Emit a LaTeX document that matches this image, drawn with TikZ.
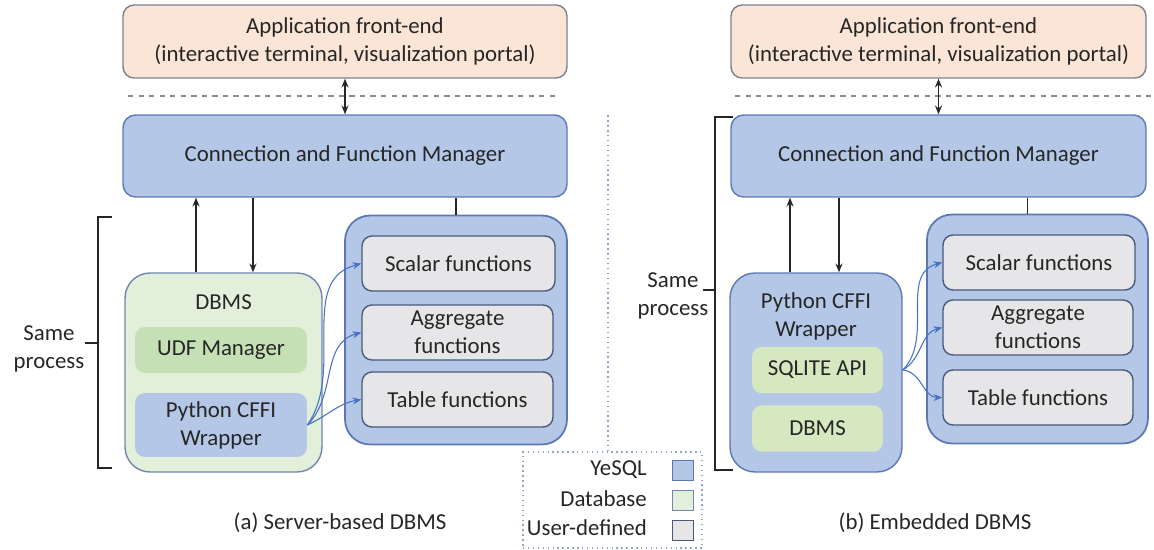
\documentclass[tikz,border=0pt]{standalone}
\usepackage{fontspec}
\setmainfont{Carlito}
\usetikzlibrary{arrows.meta,calc}
\definecolor{frontfill}{HTML}{FBE5D6}
\definecolor{frontline}{HTML}{7B8190}
\definecolor{yesqlfill}{HTML}{B4C7E7}
\definecolor{yesqlline}{HTML}{5B78B5}
\definecolor{dbfill}{HTML}{E2EFDA}
\definecolor{dbline}{HTML}{7286B0}
\definecolor{udffill}{HTML}{C5E0B4}
\definecolor{apifill}{HTML}{D5E8C0}
\definecolor{userfill}{HTML}{E6E6E8}
\definecolor{userline}{HTML}{4A5A78}
\definecolor{callblue}{HTML}{4472C4}
\definecolor{textgray}{HTML}{262626}
\definecolor{sepgray}{HTML}{8C8C8C}
\definecolor{dotblue}{HTML}{8FA3C8}

\begin{document}
\begin{tikzpicture}[
  x=0.02cm, y=-0.02cm,
  >={Stealth[length=5pt,width=4pt]},
  every node/.style={font=\fontsize{13}{16}\selectfont, text=textgray},
  frontend/.style={draw=frontline, fill=frontfill, line width=0.8pt, rounded corners=0.22cm, minimum width=#1, minimum height=1.46cm, align=center},
  manager/.style={draw=yesqlline, fill=yesqlfill, line width=0.8pt, rounded corners=0.25cm, minimum width=#1, minimum height=1.64cm},
  dbbox/.style={draw=dbline, fill=dbfill, line width=0.8pt, rounded corners=0.5cm, minimum width=3.94cm, minimum height=3.98cm},
  wrapbox/.style={draw=yesqlline, fill=yesqlfill, line width=0.8pt, rounded corners=0.5cm, minimum width=3.44cm, minimum height=3.98cm},
  udfbox/.style={fill=udffill, rounded corners=0.2cm, minimum width=3.44cm, minimum height=0.92cm},
  innerwrap/.style={fill=yesqlfill, rounded corners=0.2cm, minimum width=3.44cm, minimum height=1.28cm, align=center},
  apibox/.style={fill=apifill, rounded corners=0.2cm, minimum width=2.62cm, minimum height=0.93cm},
  funbox/.style={draw=yesqlline, fill=yesqlfill, line width=1pt, rounded corners=0.5cm, minimum width=#1, minimum height=4.58cm},
  userbox/.style={draw=userline, fill=userfill, line width=0.8pt, rounded corners=0.2cm, minimum width=#1, minimum height=1.1cm, align=center},
  flow/.style={->, draw=textgray, line width=0.8pt},
  call/.style={->, draw=callblue, line width=0.6pt},
  sepline/.style={draw=sepgray, dashed, line width=0.8pt},
  brace/.style={draw=textgray, line width=0.8pt},
  keybox/.style={draw=#1line, fill=#1fill, minimum width=0.42cm, minimum height=0.4cm, inner sep=0pt}
]
\useasboundingbox (0,0) rectangle (1154,550);

% (a) server-based DBMS
\node[frontend=8.88cm] (appA) at (345,41.5) {Application front-end\\(interactive terminal, visualization portal)};
\node[manager=8.88cm] (cfmA) at (345,156) {Connection and Function Manager};
\draw[sepline] (128,96) -- (557,96);
\draw[flow, <->] (appA) -- (cfmA);

\node[dbbox] (dbmsA) at (223.5,372.5) {};
\node (dbmsAtitle) at (223.5,302) {DBMS};
\node[udfbox] (udfA) at (221,350) {UDF Manager};
\node[innerwrap] (wrapA) at (221,425) {Python CFFI\\Wrapper};

\node[funbox=4.44cm] (funA) at (456,330) {};
\node[userbox=3.86cm] (scalA) at (458.5,263.5) {Scalar functions};
\node[userbox=3.82cm] (aggA) at (457.5,332.5) {Aggregate\\functions};
\node[userbox=3.82cm] (tabA) at (457.5,399.5) {Table functions};

\draw[flow] ([xshift=-0.55cm]dbmsA.north) -- ([xshift=-0.55cm]dbmsA.north |- cfmA.south);
\draw[flow] ([xshift=0.59cm]dbmsA.north |- cfmA.south) -- ([xshift=0.59cm]dbmsA.north);
\draw[line width=0.8pt, textgray] (funA.north) -- (funA.north |- cfmA.south);

\draw[call] (wrapA.east) to[out=55,in=195] (scalA.west);
\draw[call] (wrapA.east) to[out=45,in=195] (aggA.west);
\draw[call] (wrapA.east) to[out=25,in=190] (tabA.west);

\draw[brace] (112,217) -- (98,217) -- (98,468) -- (112,468) (98,343) -- (85,343);
\node[align=center] (sameA) at (49,349) {Same\\process};
\node (capA) at (340,523) {(a) Server-based DBMS};

% legend and divider
\node[draw=dotblue, dotted, line width=0.8pt, minimum width=3.58cm, minimum height=1.92cm] (legend) at (612.5,500) {};
\draw[draw=dotblue, dotted, line width=0.8pt] ([xshift=-0.09cm]legend.north) -- ++(0,-337);
\node[keybox=yesql] (keyY) at (682.5,470) {};
\node[keybox=db] (keyD) at (682.5,500) {};
\node[keybox=user] (keyU) at (682.5,530) {};
\node[anchor=east] (keyYtext) at (653,470) {YeSQL};
\node[anchor=east] (keyDtext) at (653,499) {Database};
\node[anchor=east] (keyUtext) at (653,528) {User-defined};

% (b) embedded DBMS
\node[frontend=8.3cm] (appB) at (938.5,41.5) {Application front-end\\(interactive terminal, visualization portal)};
\node[manager=8.3cm] (cfmB) at (938.5,156) {Connection and Function Manager};
\draw[sepline] (735,96) -- (1152,96);
\draw[flow, <->] (appB) -- (cfmB);

\node[wrapbox] (wrapB) at (816,372.5) {};
\node[align=center] (wrapBtitle) at (816,316) {Python CFFI\\Wrapper};
\node[apibox] (sqlB) at (817.5,370) {SQLITE API};
\node[apibox] (dbB) at (817.5,428.5) {DBMS};

\node[funbox=4.42cm] (funB) at (1037.5,329) {};
\node[userbox=3.84cm] (scalB) at (1039,262.5) {Scalar functions};
\node[userbox=3.8cm] (aggB) at (1038,327.5) {Aggregate\\functions};
\node[userbox=3.8cm] (tabB) at (1038,397.5) {Table functions};

\draw[flow] ([xshift=-0.52cm]wrapB.north) -- ([xshift=-0.52cm]wrapB.north |- cfmB.south);
\draw[flow] ([xshift=0.46cm]wrapB.north |- cfmB.south) -- ([xshift=0.46cm]wrapB.north);
\draw[line width=0.8pt, textgray] ([xshift=-0.2cm]funB.north) -- ([xshift=-0.2cm]funB.north |- cfmB.south);

\draw[call] (sqlB.east -| wrapB.east) to[out=45,in=195] (scalB.west);
\draw[call] (sqlB.east -| wrapB.east) to[out=30,in=195] (aggB.west);
\draw[call] (sqlB.east -| wrapB.east) to[out=-5,in=180] (tabB.west);

\draw[brace] (733,117) -- (715,117) -- (715,470) -- (733,470) (715,290) -- (703,290);
\node[align=center] (sameB) at (673,296) {Same\\process};
\node (capB) at (935,523) {(b) Embedded DBMS};
\end{tikzpicture}
\end{document}
